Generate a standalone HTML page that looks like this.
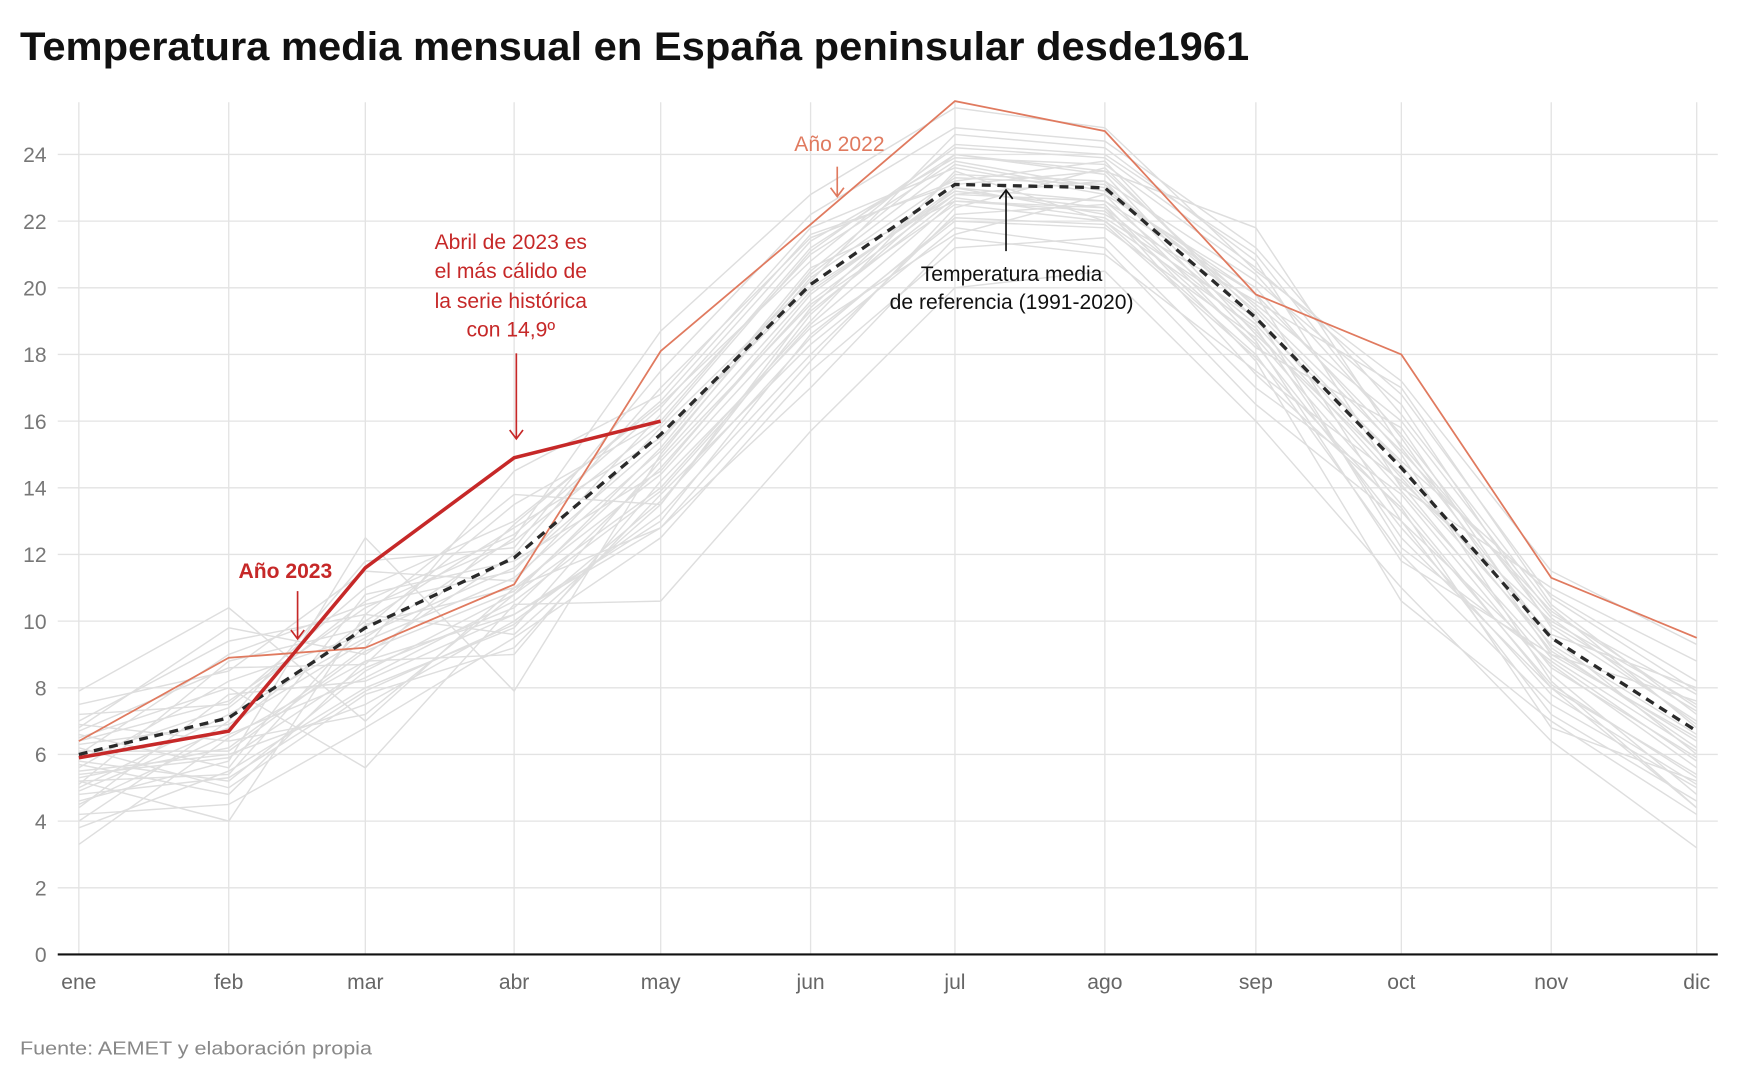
<!DOCTYPE html>
<html><head><meta charset="utf-8"><style>
html,body{margin:0;padding:0;background:#fff;}
svg{display:block;font-family:"Liberation Sans",sans-serif;}
</style></head><body>
<svg id="chart" width="1740" height="1080" viewBox="0 0 1567 972" preserveAspectRatio="none" xmlns="http://www.w3.org/2000/svg">
<text x="18" y="54" font-size="36" font-weight="bold" fill="#111" textLength="1107" lengthAdjust="spacingAndGlyphs">Temperatura media mensual en España peninsular desde1961</text>
<g id="grid"></g><g id="gray"></g><g id="main"></g><g id="axes"></g>
<g>
<text x="756" y="136" font-size="19" fill="#e07a5f" text-anchor="middle">Año 2022</text>
<line x1="754" y1="150" x2="754" y2="176" stroke="#e07a5f" stroke-width="1.5"/><path d="M748,169 L754,177 L760,169" fill="none" stroke="#e07a5f" stroke-width="1.5"/>
<text x="257" y="520" font-size="19" font-weight="bold" fill="#c62828" text-anchor="middle">Año 2023</text>
<line x1="268" y1="532" x2="268" y2="574" stroke="#c62828" stroke-width="1.5"/><path d="M262,567 L268,575 L274,567" fill="none" stroke="#c62828" stroke-width="1.5"/>
<g font-size="19" fill="#c62828" text-anchor="middle">
<text x="460" y="224">Abril de 2023 es</text><text x="460" y="250">el más cálido de</text><text x="460" y="277">la serie histórica</text><text x="460" y="303">con 14,9º</text></g>
<line x1="465" y1="318" x2="465" y2="394" stroke="#c62828" stroke-width="1.5"/><path d="M459,387 L465,395 L471,387" fill="none" stroke="#c62828" stroke-width="1.5"/>
<g font-size="19" fill="#111" text-anchor="middle">
<text x="911" y="253">Temperatura media</text><text x="911" y="278">de referencia (1991-2020)</text></g>
<line x1="906" y1="226" x2="906" y2="172" stroke="#111" stroke-width="1.5"/><path d="M900,179 L906,171 L912,179" fill="none" stroke="#111" stroke-width="1.5"/>
</g>
<text x="18" y="949" font-size="17" fill="#888" textLength="317" lengthAdjust="spacingAndGlyphs">Fuente: AEMET y elaboración propia</text>
</svg>
<script>
const months=["ene","feb","mar","abr","may","jun","jul","ago","sep","oct","nov","dic"];
const yTicks=[0,2,4,6,8,10,12,14,16,18,20,22,24];
const reference=[6.0,7.1,9.8,11.9,15.6,20.1,23.1,23.0,19.1,14.6,9.5,6.7];
const year2022=[6.4,8.9,9.2,11.1,18.1,21.9,25.6,24.7,19.8,18.0,11.3,9.5];
const year2023=[5.9,6.7,11.6,14.9,16.0];
const historical=[
[3.3,6.5,8.8,10.2,13.0,18.6,22.0,21.8,18.5,13.5,8.0,4.4],
[5.2,4.0,10.2,9.6,13.5,19.2,23.0,22.6,19.8,13.0,8.7,5.6],
[7.9,10.4,7.0,11.0,12.8,17.0,21.5,21.0,17.5,14.2,10.0,7.5],
[4.6,5.8,12.5,7.9,15.0,20.5,24.0,23.5,21.8,15.2,9.5,6.0],
[6.5,8.0,5.6,10.5,10.6,15.7,20.0,20.5,16.0,11.0,6.4,3.2],
[5.0,7.2,9.5,12.5,18.7,22.8,25.4,24.8,20.5,17.2,11.5,9.3],
[3.8,5.5,8.0,9.8,14.8,19.5,22.5,22.0,18.0,12.0,7.5,5.0],
[6.0,9.0,10.5,11.5,16.2,21.0,23.8,23.0,19.5,16.0,10.2,7.8],
[5.5,6.0,7.5,10.0,13.2,18.0,22.2,22.5,17.8,10.6,7.0,4.2],
[7.2,7.5,11.0,13.0,16.5,20.8,24.3,24.0,21.0,15.5,9.0,6.5],
[4.2,4.5,6.8,9.5,12.5,17.5,21.2,21.5,17.0,13.8,8.4,4.8],
[6.8,9.8,9.0,12.0,17.0,21.5,23.2,23.8,19.0,14.8,10.8,8.2],
[5.8,5.2,8.5,10.8,14.0,19.0,23.5,22.0,18.8,12.5,8.0,5.4],
[4.9,6.8,10.0,12.8,15.5,20.0,22.8,23.2,20.2,16.5,9.8,7.0],
[6.2,5.0,7.8,9.2,13.8,18.3,21.8,21.2,16.5,13.0,7.2,4.6],
[7.5,8.5,11.5,11.2,15.8,20.2,24.6,24.2,20.8,14.0,11.0,8.8],
[5.3,6.2,9.2,14.5,16.8,21.8,23.6,22.8,18.2,15.8,9.2,6.2],
[4.4,7.8,8.2,10.2,12.8,17.8,22.4,23.6,19.2,12.2,8.8,5.8],
[6.6,5.6,10.8,11.8,14.5,19.8,23.0,22.2,19.6,17.0,10.5,7.2],
[5.1,8.8,9.8,13.5,16.0,21.2,24.0,23.4,18.6,14.4,9.6,8.0],
[6.9,6.4,7.2,10.8,15.2,20.6,22.6,22.4,17.4,13.4,6.8,5.2],
[4.0,7.0,11.8,12.2,17.5,22.2,24.8,24.4,21.2,16.2,10.4,6.8],
[5.7,4.8,8.8,9.0,14.2,18.8,21.6,22.8,20.0,15.0,8.2,4.4],
[7.0,9.4,10.2,13.8,13.5,19.4,23.4,23.2,18.4,11.8,9.0,7.6],
[5.4,5.9,8.6,10.4,14.6,19.6,22.8,22.6,18.9,14.1,8.6,5.9],
[6.3,6.9,9.4,11.3,15.1,20.3,23.3,23.1,19.3,14.7,9.1,6.4],
[4.8,5.3,7.9,9.9,13.6,18.5,22.1,21.9,17.9,13.3,8.1,5.3],
[5.9,7.4,10.6,12.6,16.4,21.4,23.9,23.7,20.4,15.6,9.9,7.3],
[6.1,6.1,9.1,10.9,14.9,19.9,22.9,22.4,18.7,13.9,8.9,6.1],
[5.6,8.2,9.6,11.6,15.4,20.4,23.7,22.9,19.8,15.3,10.1,6.9],
[4.5,6.6,8.3,10.6,13.9,18.9,22.6,22.3,18.3,12.8,7.8,5.1],
[6.4,7.6,10.4,12.4,15.9,21.1,24.2,23.9,20.6,16.8,10.7,7.9],
[5.2,5.4,9.9,11.0,14.4,19.3,22.7,22.1,19.1,14.3,9.3,6.6],
[6.7,8.6,8.7,12.9,16.6,21.6,23.1,23.5,19.4,15.1,10.3,7.4]];

const NS="http://www.w3.org/2000/svg";
const xPos=[71,206,329,463,595,730,860,995,1131,1262,1397,1528];
function x(i){return xPos[i];}
function y(v){return 859-v*30;}
function mk(tag,attrs,parent){const e=document.createElementNS(NS,tag);for(const k in attrs)e.setAttribute(k,attrs[k]);parent.appendChild(e);return e;}
const grid=document.getElementById('grid'),axes=document.getElementById('axes'),gray=document.getElementById('gray'),main=document.getElementById('main');
yTicks.forEach(t=>{
 const l=mk('line',{x1:52,x2:1547,y1:y(t),y2:y(t),stroke:'#e3e3e3','stroke-width':1.2},grid);
 
 
 const tx=mk('text',{x:42,y:y(t)+7,'font-size':19,fill:'#777','text-anchor':'end'},axes);
 tx.textContent=t;
 
 
});
months.forEach((m,i)=>{
 const l=mk('line',{x1:x(i),x2:x(i),y1:92,y2:859,stroke:'#e3e3e3','stroke-width':1.2},grid);
 
 
 const tx=mk('text',{x:x(i),y:890,'font-size':19,fill:'#666','text-anchor':'middle'},axes);
 tx.textContent=m;
 
 
});
const ax=mk('line',{x1:52,x2:1547,y1:859,y2:859,stroke:'#111','stroke-width':2},axes);


function pts(arr){return arr.map((v,i)=>x(i)+','+y(v)).join(' ');}
historical.forEach(s=>{
 const p=mk('polyline',{points:pts(s),fill:'none',stroke:'#dedede','stroke-width':1.3},gray);
 
 
});
const p22=mk('polyline',{points:pts(year2022),fill:'none',stroke:'#e07a5f','stroke-width':1.6},main);


const pr=mk('polyline',{points:pts(reference),fill:'none',stroke:'#2a2a2a','stroke-width':3,'stroke-dasharray':'8,6'},main);


const p23=mk('polyline',{points:pts(year2023),fill:'none',stroke:'#c62828','stroke-width':3.2},main);


</script>
</body></html>
